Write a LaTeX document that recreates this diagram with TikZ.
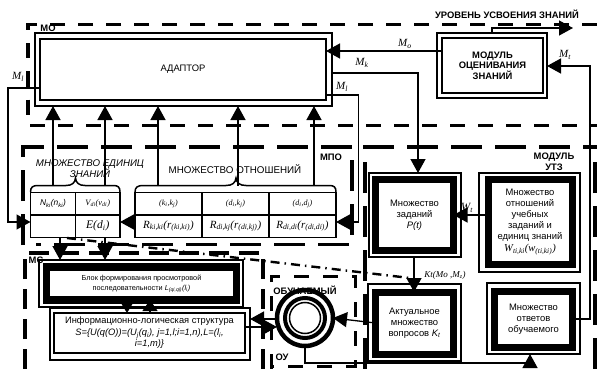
\documentclass[tikz,border=0pt]{standalone}
\usepackage{fontspec}
\setmainfont{Liberation Sans}
\newfontfamily\serifit[Ligatures=TeX]{Liberation Serif Italic}
\usetikzlibrary{arrows.meta, calc, positioning}

\begin{document}
\begin{tikzpicture}[
    x=1pt, y=-1pt,
    every node/.style={font=\fontsize{9.4}{10.9}\selectfont, inner sep=0pt, outer sep=0pt, align=center},
    shell/.style={draw, line width=1.3pt, fill=white},
    slim/.style={draw, line width=2pt},
    fat/.style={draw, line width=7pt},
    cell/.style={draw, line width=1.5pt, minimum height=22.5pt},
    brace/.style={line width=1.5pt},
    dashmo/.style={line width=3.6pt, dash pattern=on 15pt off 13pt},
    dashmp/.style={line width=3.6pt, dash pattern=on 31pt off 13pt},
    dashmc/.style={line width=3.2pt, dash pattern=on 20pt off 10pt},
    dashou/.style={line width=3pt, dash pattern=on 15pt off 14pt},
    dashkt/.style={line width=2.4pt, dash pattern=on 9pt off 5pt on 1.5pt off 5pt},
    arr/.style={-{Triangle[length=14pt, width=15pt]}, line width=1.3pt},
    tag/.style={font=\fontsize{9.4}{11.5}\selectfont\bfseries},
    sign/.style={font=\fontsize{11}{13}\serifit},
    form/.style={font=\fontsize{8}{10}\serifit},
  ]
  \useasboundingbox (0,0) rectangle (597,369);
  % --- dashed frames
  \draw[dashmo] (597,24.5) -| (28,115);
  \draw[dashmo] (30,125.5) -- (597,125.5);
  \draw[dashmp] (23,245) |- (352,147) -- (352,244.5) -- (36,244.5);
  \draw[dashmp] (365,369) |- (597,147);
  \draw[dashmp] (595,369) -- (595,150);
  \draw[dashmc] (25,369) |- (263,253) -- (263,369);
  \draw[dashou] (271,369) |- (355,276) -- (355,366) -- (271,366);
  \draw[dashkt] (67,238) -- (410,278);
  % --- adaptor
  \node[shell, minimum width=297pt, minimum height=73pt] (adaptorO) at (183.5,69.5) {};
  \node[slim, minimum width=286pt, minimum height=61pt] (adaptor) at (183,69.5) {АДАПТОР};
  % --- evaluation module
  \node[shell, line width=1.8pt, minimum width=110pt, minimum height=65pt] (evalO) at (492,65.5) {};
  \node[slim, minimum width=101pt, minimum height=55pt, font=\fontsize{9.4}{10.6}\selectfont\bfseries] (eval) at (492.5,65.5) {МОДУЛЬ\\ОЦЕНИВАНИЯ\\ЗНАНИЙ};
  % --- tasks and relations
  \node[shell, minimum width=92pt, minimum height=84pt] (tasksO) at (415,215) {};
  \node[fat, minimum width=78pt, minimum height=71pt] (tasks) at (414.5,215) {Множество\\заданий\\\textit{P(t)}};
  \node[shell, minimum width=101pt, minimum height=99pt] (relO) at (529.5,222.5) {};
  \node[fat, minimum width=84pt, minimum height=85pt] (rel) at (530,222) {Множество\\отношений\\учебных\\заданий и\\единиц знаний\\[1pt]{\serifit\fontsize{10.6}{12}\selectfont W\textsubscript{ti,ki}(w\textsubscript{(ti,ki)})}};
  \node[shell, minimum width=93pt, minimum height=77pt] (actualO) at (414.5,322.5) {};
  \node[fat, minimum width=78pt, minimum height=62pt] (actual) at (414.5,323) {\raisebox{12pt}{\parbox{70pt}{\centering Актуальное\\множество\\вопросов \textit{K\textsubscript{t}}}}};
  \node[shell, minimum width=93pt, minimum height=71pt] (answersO) at (533.5,318.5) {};
  \node[fat, minimum width=78pt, minimum height=56pt] (answers) at (533.5,319) {\raisebox{8pt}{\parbox{70pt}{\centering Множество\\ответов\\обучаемого}}};
  % --- sequence block and structure
  \node[shell, minimum width=204pt, minimum height=47pt] (blockO) at (141,283.5) {};
  \node[fat, line width=7.5pt, minimum width=190pt, minimum height=33pt, font=\fontsize{7.3}{10}\selectfont] (block) at (141.5,283.5) {Блок формирования просмотровой\\последовательности \textit{L\textsubscript{(qi,qi)}(l\textsubscript{i})}};
  \node[shell, minimum width=200pt, minimum height=52pt] (logicO) at (150,334) {};
  \node[slim, minimum width=191pt, minimum height=40pt, font=\fontsize{9.3}{11.5}\selectfont] (logic) at (149.5,333) {Информационно-логическая структура\\\textit{S=\{U(q(O))=(U\textsubscript{j}(q\textsubscript{i}), j=1,l;i=1,n),L=(l\textsubscript{i},}\\\textit{i=1,m)\}}};
  % --- learner rings
  \node[draw, circle, line width=4.5pt, minimum size=56pt] (learnerA) at (305,318) {};
  \node[draw, circle, line width=4pt, minimum size=40pt] (learnerB) at (305,318) {};
  \node[draw, circle, line width=1.5pt, minimum size=31pt] (learner) at (305,318) {};
  % --- table of knowledge units
  \node[cell, minimum width=45pt, font=\fontsize{8.4}{10}\selectfont\itshape] (unitN) at (53,203.5) {N\textsubscript{ki}(n\textsubscript{ki})};
  \node[cell, minimum width=44.5pt, font=\fontsize{8.4}{10}\serifit] (unitV) at (97.75,203.5) {V\textsubscript{di}(v\textsubscript{di})};
  \node[cell, minimum width=45pt] (unitX) at (53,226) {};
  \node[cell, minimum width=44.5pt, font=\fontsize{11.5}{13}\serifit] (unitE) at (97.75,226) {E(d\textsubscript{i})};
  \draw[brace] (30.5,192) .. controls (30.5,187) and (33,185.5) .. (38,185.5) -- (66,185.5) .. controls (72,185.5) and (75,183) .. (75.5,178) .. controls (76,183) and (79,185.5) .. (85,185.5) -- (113,185.5) .. controls (118,185.5) and (120,187) .. (120,192);
  % --- table of relations
  \node[cell, minimum width=67pt, form] (relkk) at (168.5,203.5) {(k\textsubscript{i},k\textsubscript{j})};
  \node[cell, minimum width=67pt, form] (reldk) at (235.5,203.5) {(d\textsubscript{i},k\textsubscript{j})};
  \node[cell, minimum width=67pt, form] (reldd) at (302.5,203.5) {(d\textsubscript{i},d\textsubscript{j})};
  \node[cell, minimum width=67pt, sign] (valkk) at (168.5,226) {R\textsubscript{ki,ki}(r\textsubscript{(ki,ki)})};
  \node[cell, minimum width=67pt, sign] (valdk) at (235.5,226) {R\textsubscript{di,kj}(r\textsubscript{(di,kj)})};
  \node[cell, minimum width=67pt, sign] (valdd) at (302.5,226) {R\textsubscript{di,di}(r\textsubscript{(di,di)})};
  \draw[brace] (135,192) .. controls (135,187) and (138,185.5) .. (143,185.5) -- (226,185.5) .. controls (232,185.5) and (235.5,183) .. (236,178) .. controls (236.5,183) and (240,185.5) .. (246,185.5) -- (329,185.5) .. controls (334,185.5) and (336,187) .. (336,192);
  % --- arrows up into the adaptor
  \foreach \x in {53,105,158,238,314} {
    \coordinate (up\x) at (\x,185.5);
    \draw[arr] (up\x) -- (up\x |- adaptorO.south);
  }
  % --- edges
  \coordinate (evalUp) at (492,28);
  \coordinate (level) at (573,28);
  \draw[arr] (evalO.north -| evalUp) -- (evalUp) -- (level);
  \draw[arr] (eval.west |- 0,51) -- (adaptor.east |- 0,51);
  \coordinate (mk) at (418,73);
  \draw[arr] (adaptorO.east |- mk) -- (mk) -- (mk |- tasksO.north);
  \coordinate (ml) at (358.5,95);
  \draw[arr] (adaptor.east |- ml) -- (ml) |- (valdd.east |- 0,222);
  \coordinate (mlL) at (8,88);
  \draw[arr] (adaptor.west |- mlL) -- (mlL) |- (unitX.west |- 0,222);
  \coordinate (mt) at (590,66);
  \draw[arr] (answers.east) -| (mt) -- (evalO.east |- mt);
  \draw[arr] (valkk.west |- 0,222) -- (unitE.east |- 0,222);
  \draw[arr] ([yshift=7pt]rel.west) -- (tasks.east |- 0,215);
  \draw[arr] (tasksO.south -| 414,0) -- (actual.north -| 414,0);
  \draw[arr] (actual.west) -- (learnerA.east);
  \coordinate (down1) at (60,237);
  \coordinate (down2) at (105,237);
  \draw[arr] (down1) -- (down1 |- blockO.north);
  \draw[arr] (down2) -- (down2 |- blockO.north);
  \coordinate (seqA) at (127,303);
  \coordinate (seqB) at (150,313);
  \draw[arr, -{Triangle[length=11pt, width=13pt]}] (seqA) -- (seqA |- logic.north);
  \draw[arr, -{Triangle[length=11pt, width=15pt]}] (seqB) -- (seqB |- block.south);
  \draw[arr] (learnerA.west |- 0,319) -- (logicO.east |- 0,319);
  \draw[arr] (logic.east |- 0,327) -- (learnerA.west |- 0,327);
  \coordinate (foot) at (305,363);
  \coordinate (footR) at (530,363);
  \draw[arr] (learnerA.south) -- (foot) -- (footR) -- (footR |- answersO.south);
  % --- labels
  \node[tag] (lblLevel) at (507,14.5) {УРОВЕНЬ УСВОЕНИЯ ЗНАНИЙ};
  \node[tag] (lblMo) at (48,28.5) {МО};
  \node[tag] (lblMp) at (331,157) {МПО};
  \node[tag] (lblUt) at (554,162) {МОДУЛЬ\\УТЗ};
  \node[tag] (lblMc) at (36,260) {МС};
  \node[tag] (lblLe) at (305,290) {ОБУЧАЕМЫЙ};
  \node[tag] (lblOu) at (282,357) {ОУ};
  \node[font=\fontsize{9.7}{10.9}\selectfont\itshape] (lblUn) at (90,169) {МНОЖЕСТВО  ЕДИНИЦ\\ЗНАНИЙ};
  \node[font=\fontsize{9.8}{11}\selectfont] (lblRe) at (235,169) {МНОЖЕСТВО  ОТНОШЕНИЙ};
  \node[sign] (lblM1) at (18,77) {M\textsubscript{l}};
  \node[sign] (lblMo2) at (405,44) {M\textsubscript{o}};
  \node[sign] (lblMk) at (362,63) {M\textsubscript{k}};
  \node[sign] (lblM2) at (342,87) {M\textsubscript{l}};
  \node[sign] (lblMt) at (565,55) {M\textsubscript{t}};
  \node[sign] (lblWt) at (467,208) {W\textsubscript{t}};
  \node[font=\fontsize{9}{11}\serifit] (lblKt) at (445,275.5) {Kt(Mo ,M\textsubscript{z})};
\end{tikzpicture}
\end{document}
